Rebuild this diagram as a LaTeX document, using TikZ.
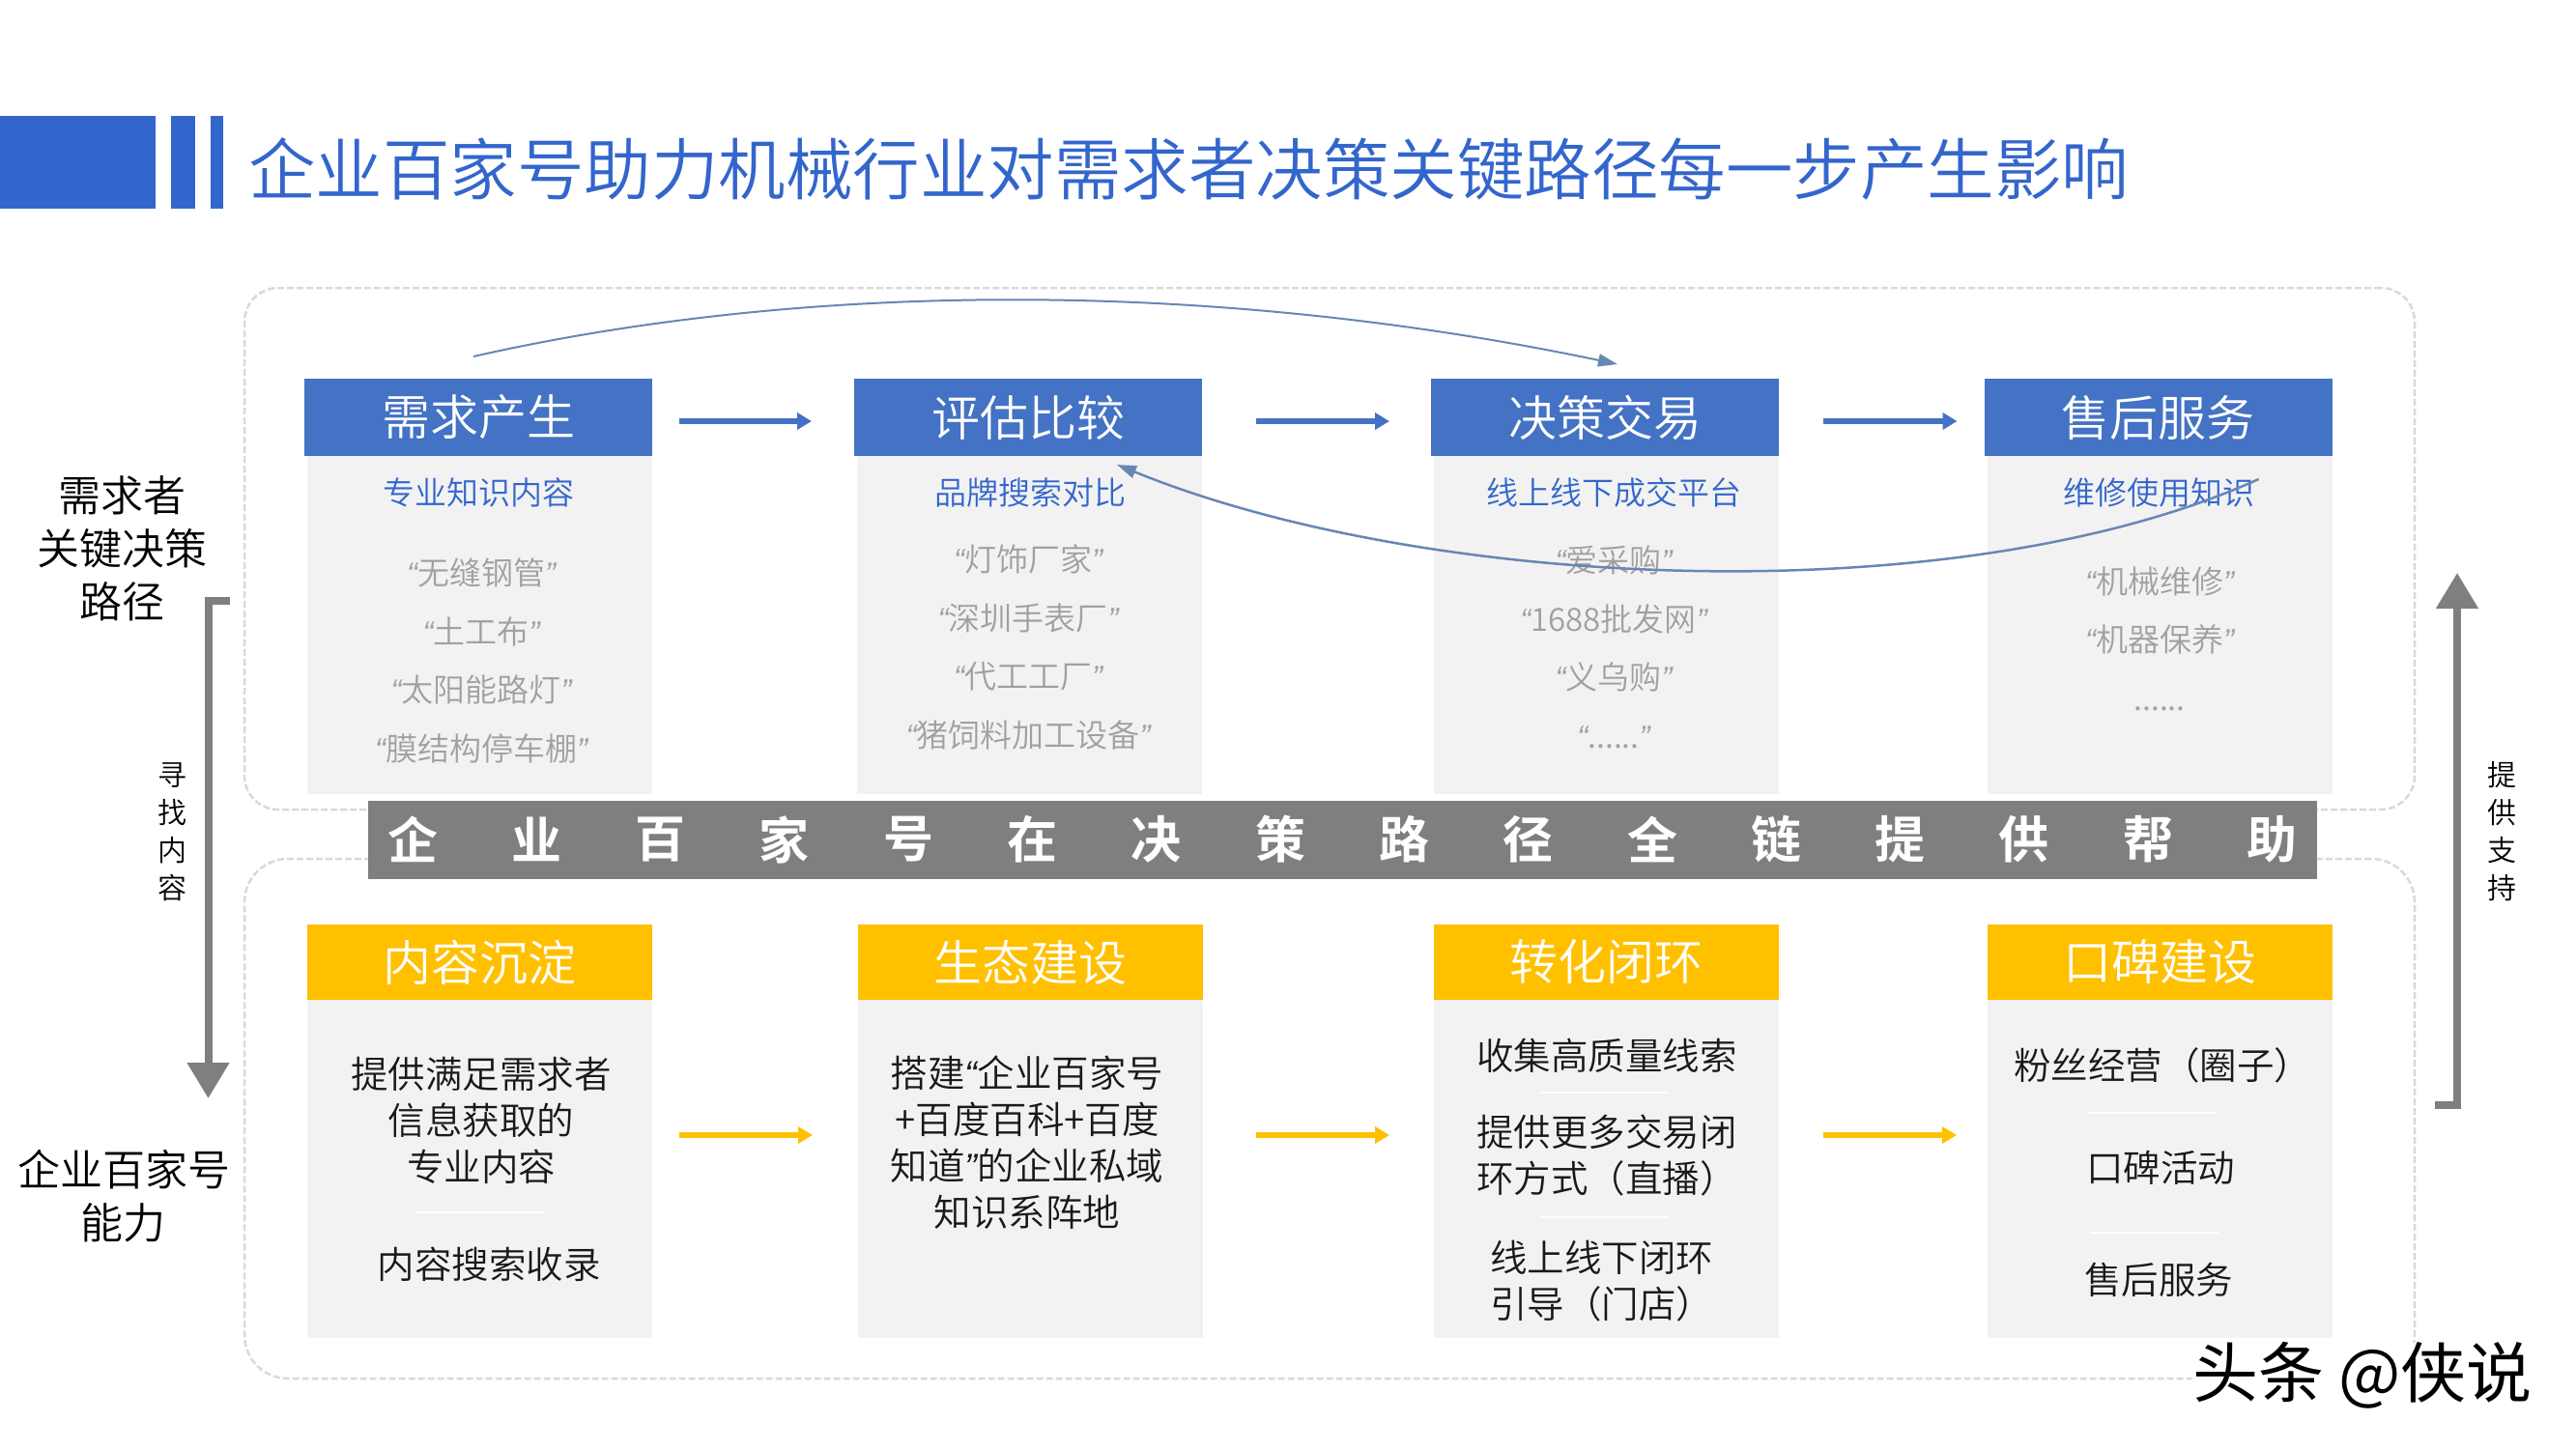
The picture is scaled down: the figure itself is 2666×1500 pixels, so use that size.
\documentclass[tikz,border=0pt]{standalone}
\usepackage{fontspec}
\setmainfont{Noto Sans CJK SC}[UprightFont=* DemiLight,BoldFont=* Bold]
\newfontfamily\quotefont{Liberation Sans}[ItalicFont=* Italic]
\newfontfamily\markfont{Noto Sans CJK SC}
\newcommand{\quoted}[1]{{\quotefont\itshape “}#1{\quotefont\itshape ”}}
\usetikzlibrary{positioning,arrows.meta}
\definecolor{titleblue}{HTML}{3366CC}
\definecolor{headblue}{HTML}{4472C4}
\definecolor{headgold}{HTML}{FFC000}
\definecolor{bodygrey}{HTML}{F2F2F2}
\definecolor{bandgrey}{HTML}{7F7F7F}
\definecolor{framegrey}{HTML}{D9D9D9}
\definecolor{quotegrey}{HTML}{A0A0A0}
\definecolor{curveblue}{HTML}{6787B5}

\begin{document}
\begin{tikzpicture}[x=1pt,y=-1pt,
		every node/.style={inner sep=0pt,outer sep=0pt},
		titlebar/.style={fill=titleblue,minimum height=96pt},
		topfacing/.style={fill=headblue,text=white,minimum width=360pt,minimum height=80pt,font=\fontsize{50}{60}\selectfont},
		lowfacing/.style={fill=headgold,text=white,minimum width=357pt,minimum height=78pt,font=\fontsize{50}{60}\selectfont},
		bodyface/.style={fill=bodygrey,minimum width=357pt,minimum height=350pt},
		frameline/.style={draw=framegrey,line width=2.5pt,dash pattern=on 7pt off 3pt,minimum width=2246pt},
		subline/.style={text=titleblue,font=\fontsize{33}{40}\selectfont},
		quoteline/.style={text=quotegrey,align=center,font=\fontsize{33}{60.5}\selectfont},
		lowline/.style={text=black!90,align=center,font=\fontsize{38.5}{48}\selectfont},
		sideline/.style={text=black,align=center,font=\fontsize{44}{55}\selectfont},
		upright/.style={text=black,align=center,font=\fontsize{30}{39}\selectfont},
		bandchar/.style={text=white,font=\fontsize{52}{60}\selectfont\bfseries},
		sepbar/.style={fill=white,minimum width=133pt,minimum height=2.5pt},
		flowblue/.style={draw=headblue,line width=6pt,-{Triangle[length=15pt,width=17pt]}},
		flowgold/.style={draw=headgold,line width=6pt,-{Triangle[length=15pt,width=17pt]}},
		thickgrey/.style={draw=bandgrey,line width=8pt,-{Triangle[length=37pt,width=42pt]}},
		thincurve/.style={draw=curveblue,line width=2.5pt,-{Triangle[length=20pt,width=13pt]}}]
	\useasboundingbox (0,0) rectangle (2666,1500);
	% title
	\node[titlebar,minimum width=161pt] (bara) at (80.5,168) {};
	\node[titlebar,minimum width=25pt] (barb) at (189.5,168) {};
	\node[titlebar,minimum width=13pt] (barc) at (224.5,168) {};
	\node[anchor=west,text=titleblue,font=\fontsize{69.5}{80}\selectfont] (title) at (257,175) {企业百家号助力机械行业对需求者决策关键路径每一步产生影响};
	% dashed frames
	\node[frameline,rounded corners=35pt,minimum height=540pt] (ftop) at (1376,568) {};
	\node[frameline,rounded corners=45pt,minimum height=538pt] (flow) at (1376,1158) {};
	% upper row
	\node[topfacing] (hone) at (495,432) {需求产生};
	\node[topfacing] (htwo) at (1064,432) {评估比较};
	\node[topfacing] (hthree) at (1661,432) {决策交易};
	\node[topfacing] (hfour) at (2233.5,432) {售后服务};
	\node[bodyface,below=0pt of hone.south east,anchor=north east] (bone) {};
	\node[bodyface,below=0pt of htwo.south east,anchor=north east] (btwo) {};
	\node[bodyface,below=0pt of hthree.south east,anchor=north east] (bthree) {};
	\node[bodyface,below=0pt of hfour.south east,anchor=north east] (bfour) {};
	\node[subline] (sone) at (495,510) {专业知识内容};
	\node[subline] (stwo) at (1066,510) {品牌搜索对比};
	\node[subline] (sthree) at (1670,510) {线上线下成交平台};
	\node[subline] (sfour) at (2234,510) {维修使用知识};
	\node[quoteline] (qone) at (498,684) {\quoted{无缝钢管}\\\quoted{土工布}\\\quoted{太阳能路灯}\\\quoted{膜结构停车棚}};
	\node[quoteline] (qtwo) at (1064,670) {\quoted{灯饰厂家}\\\quoted{深圳手表厂}\\\quoted{代工工厂}\\\quoted{猪饲料加工设备}};
	\node[quoteline] (qthree) at (1670,670) {\quoted{爱采购}\\\quoted{1688批发网}\\\quoted{义乌购}\\\quoted{......}};
	\node[quoteline] (qfour) at (2235,661) {\quoted{机械维修}\\\quoted{机器保养}\\......};
	% lower row
	\node[lowfacing] (kone) at (496.5,996) {内容沉淀};
	\node[lowfacing] (ktwo) at (1066.5,996) {生态建设};
	\node[lowfacing] (kthree) at (1662.5,996) {转化闭环};
	\node[lowfacing] (kfour) at (2235.5,996) {口碑建设};
	\node[bodyface,below=0pt of kone] (cone) {};
	\node[bodyface,below=0pt of ktwo] (ctwo) {};
	\node[bodyface,below=0pt of kthree] (cthree) {};
	\node[bodyface,below=0pt of kfour] (cfour) {};
	\node[lowline] (lone) at (498,1160) {提供满足需求者\\信息获取的\\专业内容};
	\node[lowline] (ltwo) at (506,1309) {内容搜索收录};
	\node[lowline] (lthree) at (1063,1183) {搭建\quoted{企业百家号\\+百度百科+百度\\知道}的企业私域\\知识系阵地};
	\node[lowline] (lfour) at (1663,1093) {收集高质量线索};
	\node[lowline,align=left,anchor=west] (lfive) at (1528,1196) {提供更多交易闭\\环方式（直播）};
	\node[lowline,align=left,anchor=west] (lsix) at (1542,1326) {线上线下闭环\\引导（门店）};
	\node[lowline] (lseven) at (2238,1103) {粉丝经营（圈子）};
	\node[lowline] (leight) at (2236,1209) {口碑活动};
	\node[lowline] (lnine) at (2234,1325) {售后服务};
	\foreach \sepname/\px/\py in {sa/497/1255,sb/1660/1131,sc/1660/1260,sd/2227/1152,se/2229/1276}
		\node[sepbar] (\sepname) at (\px,\py) {};
	% band over the frames
	\node[fill=bandgrey,minimum width=2017pt,minimum height=81pt] (band) at (1389.5,869.5) {};
	\foreach \ch [count=\i from 0] in {企,业,百,家,号,在,决,策,路,径,全,链,提,供,帮,助}
		\node[bandchar] (bc\i) at ({427+128.3*\i},869) {\ch};
	% side texts
	\node[sideline] (needside) at (126,568) {需求者\\关键决策\\路径};
	\node[sideline] (abilityside) at (128,1238) {企业百家号\\能力};
	\node[upright] (seekside) at (178,861) {寻\\找\\内\\容};
	\node[upright] (backside) at (2589,861) {提\\供\\支\\持};
	\coordinate (seektop) at (238,622);
	\coordinate (seekend) at (215.5,1137);
	\coordinate (backlow) at (2520,1144);
	\coordinate (backend) at (2543,593);
	\draw[thickgrey] (seektop) -| (seekend);
	\draw[thickgrey] (backlow) -| (backend);
	% arrows
	\draw[flowblue,shorten <=28pt,shorten >=44pt] ([yshift=-4pt]hone.east) -- ([yshift=-4pt]htwo.west);
	\draw[flowblue,shorten <=56pt,shorten >=43pt] ([yshift=-4pt]htwo.east) -- ([yshift=-4pt]hthree.west);
	\draw[flowblue,shorten <=46pt,shorten >=28pt] ([yshift=-4pt]hthree.east) -- ([yshift=-4pt]hfour.west);
	\draw[flowgold,shorten <=28pt,shorten >=47pt] ([yshift=35pt]cone.east) -- ([yshift=35pt]ctwo.west);
	\draw[flowgold,shorten <=55pt,shorten >=46pt] ([yshift=35pt]ctwo.east) -- ([yshift=35pt]cthree.west);
	\draw[flowgold,shorten <=46pt,shorten >=32pt] ([yshift=35pt]cthree.east) -- ([yshift=35pt]cfour.west);
	\draw[thincurve,line width=2pt] ([xshift=-5pt,yshift=23pt]hone.north) .. controls (830,292) and (1250,288) .. ([xshift=13pt,yshift=15pt]hthree.north);
	\draw[thincurve] ([xshift=104pt,yshift=-24pt]hfour.south) .. controls (2030,635) and (1480,613) .. ([xshift=92pt,yshift=-9pt]htwo.south);
	% mark
	\node[fill=white,text=black,font=\fontsize{68}{76}\selectfont\markfont] (mark) at (2445,1424) {头条 @侠说};
\end{tikzpicture}
\end{document}
